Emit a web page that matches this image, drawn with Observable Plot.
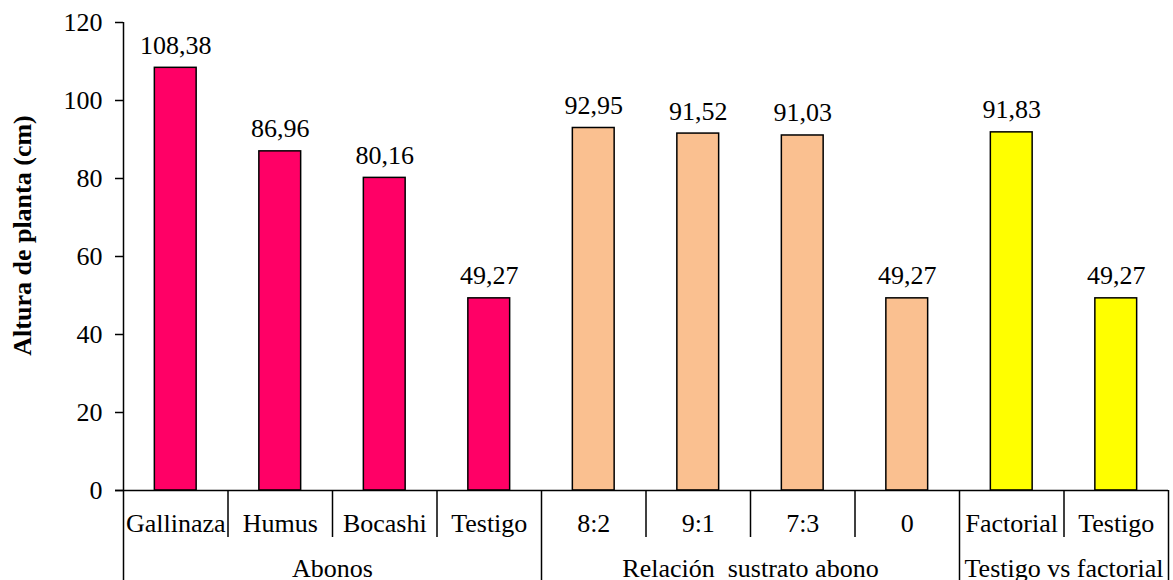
<!DOCTYPE html>
<html>
<head>
<meta charset="utf-8">
<script src="https://cdn.jsdelivr.net/npm/d3@7"></script>
<script src="https://cdn.jsdelivr.net/npm/@observablehq/plot@0.6"></script>
<style>
  html, body { margin: 0; padding: 0; background: #fff; }
  svg { display: block; }
  #chart svg, #chart svg text, #chart svg g { font-family: "Liberation Serif", "Times New Roman", Times, "DejaVu Serif", serif !important; }
</style>
</head>
<body>
<div id="chart"></div>
<script>
const categories = ["Gallinaza", "Humus", "Bocashi", "Testigo", "8:2", "9:1", "7:3", "0", "Factorial", "Testigo"];
const values = [108.38, 86.96, 80.16, 49.27, 92.95, 91.52, 91.03, 49.27, 91.83, 49.27];
const groupOf = [0, 0, 0, 0, 1, 1, 1, 1, 2, 2];
const groups = ["Abonos", "Relación  sustrato abono", "Testigo vs factorial"];
const groupColors = ["#FF0066", "#FAC090", "#FFFF00"];
const yTicks = [0, 20, 40, 60, 80, 100, 120];
const yLabel = "Altura de planta (cm)";

const data = categories.map((c, i) => ({i, cat: c, value: values[i], group: groupOf[i]}));

const groupSpans = groups.map((g, k) => {
  const idx = data.filter(d => d.group === k).map(d => d.i);
  return {name: g, start: d3.min(idx), end: d3.max(idx) + 1};
});
const innerBounds = d3.range(1, categories.length).filter(b => !groupSpans.some(s => s.start === b));
const outerBounds = [...groupSpans.map(s => s.start), categories.length];

const fmt = v => v.toFixed(2).replace(".", ",");
const fs = 26;

const chart = Plot.plot({
  width: 1173,
  height: 580,
  marginLeft: 123,
  marginRight: 5,
  marginTop: 22,
  marginBottom: 90,
  style: {fontSize: fs + "px", color: "#000", background: "#fff"},
  x: {domain: [0, categories.length], axis: null},
  y: {domain: [0, 120], axis: null},
  marks: [
    Plot.rectY(data, {
      x1: d => d.i + 0.3,
      x2: d => d.i + 0.7,
      y: "value",
      fill: d => groupColors[d.group],
      stroke: "#000",
      strokeWidth: 1.5
    }),
    Plot.text(data, {
      x: d => d.i + 0.5,
      y: "value",
      text: d => fmt(d.value),
      lineAnchor: "bottom",
      dy: -14,
      fontSize: fs,
      fill: "#000"
    }),
    Plot.axisY({
      ticks: yTicks,
      tickSize: 8,
      tickPadding: 13,
      tickFormat: d => String(d),
      fontSize: fs,
      label: null,
      stroke: "#000",
      strokeWidth: 1.5
    }),
    Plot.ruleX([0], {stroke: "#000", strokeWidth: 1.5, insetBottom: -90}),
    Plot.ruleY([0], {stroke: "#000", strokeWidth: 1.5, insetLeft: -8}),
    Plot.ruleX(innerBounds, {x: d => d, y1: 0, insetBottom: -47, stroke: "#000", strokeWidth: 1.5}),
    Plot.ruleX(outerBounds.filter(b => b > 0), {x: d => d, y1: 0, insetBottom: -90, stroke: "#000", strokeWidth: 1.5}),
    Plot.text(data, {
      x: d => d.i + 0.5,
      y: 0,
      text: "cat",
      dy: 33,
      fontSize: fs,
      fill: "#000"
    }),
    Plot.text(groupSpans, {
      x: d => (d.start + d.end) / 2,
      y: 0,
      text: "name",
      dy: 78,
      fontSize: fs,
      fill: "#000"
    }),
    Plot.text([yLabel], {
      frameAnchor: "left",
      textAnchor: "middle",
      text: d => d,
      rotate: -90,
      dx: -101,
      dy: -21,
      fontSize: 26,
      fontWeight: "bold",
      fill: "#000"
    })
  ]
});

document.getElementById("chart").appendChild(chart);
</script>
</body>
</html>
